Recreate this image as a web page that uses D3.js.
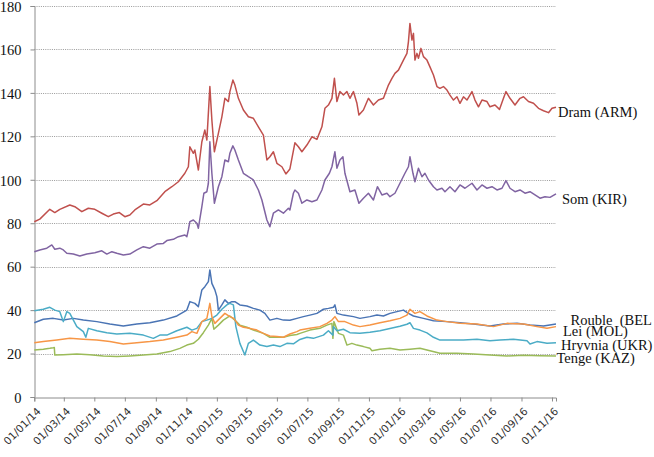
<!DOCTYPE html>
<html>
<head>
<meta charset="utf-8">
<script src="https://cdn.jsdelivr.net/npm/d3@7"></script>
<style>
  body { margin: 0; background: #fff; }
  svg { display: block; }
</style>
</head>
<body>
<svg id="chart" width="654" height="457"></svg>
<script>
// ---------------- DATA ----------------
const yTickValues = [0, 20, 40, 60, 80, 100, 120, 140, 160, 180];
const xStart = "2014-01-01";
const xEnd = "2016-11-09";

const seriesNames = ["Rouble  (BEL", "Dram (ARM)", "Tenge (KAZ)", "Som (KIR)", "Hryvnia (UKR)", "Lei (MOL)"];

const roubleBEL = [
  ["2014-01-01",34.2],["2014-01-19",35.8],["2014-02-08",36.2],["2014-02-28",35.4],["2014-03-20",36.2],
  ["2014-04-09",35.4],["2014-05-06",34.7],["2014-06-01",33.6],["2014-06-28",32.7],["2014-07-25",33.6],
  ["2014-08-20",34.2],["2014-09-16",35.4],["2014-10-13",37.3],["2014-11-02",40.0],["2014-11-08",43.9],
  ["2014-11-18",43.1],["2014-11-25",41.6],["2014-12-02",49.3],["2014-12-08",50.8],["2014-12-15",53.1],
  ["2014-12-18",58.5],["2014-12-22",52.3],["2014-12-28",49.3],["2015-01-01",46.2],["2015-01-04",40.0],
  ["2015-01-11",42.4],["2015-01-17",44.7],["2015-01-24",43.1],["2015-01-31",43.9],["2015-02-06",43.9],
  ["2015-02-16",42.4],["2015-03-02",41.9],["2015-03-15",40.8],["2015-03-28",40.0],["2015-04-07",38.5],
  ["2015-04-17",35.4],["2015-05-01",36.2],["2015-05-14",35.4],["2015-05-27",35.3],["2015-06-10",36.2],
  ["2015-06-23",37.0],["2015-07-06",37.7],["2015-07-20",38.5],["2015-08-02",40.4],["2015-08-12",40.8],
  ["2015-08-22",41.3],["2015-08-25",42.4],["2015-08-29",38.5],["2015-09-11",37.7],["2015-10-01",37.0],
  ["2015-10-14",36.2],["2015-11-03",37.0],["2015-11-17",37.7],["2015-11-30",37.3],["2015-12-13",38.5],
  ["2015-12-27",39.3],["2016-01-09",40.0],["2016-01-19",38.5],["2016-01-29",37.3],["2016-02-18",36.2],
  ["2016-03-09",35.1],["2016-04-05",34.7],["2016-05-01",34.2],["2016-05-28",33.6],["2016-06-30",32.7],
  ["2016-07-27",33.6],["2016-08-23",33.9],["2016-09-18",33.1],["2016-10-15",32.7],["2016-11-09",33.6]
];

const dramARM = [
  ["2014-01-01",80.7],["2014-01-12",81.9],["2014-02-01",86.4],["2014-02-11",84.9],["2014-02-21",86.4],
  ["2014-03-13",88.4],["2014-03-23",87.6],["2014-04-06",85.3],["2014-04-19",86.9],["2014-05-02",86.4],
  ["2014-05-16",84.6],["2014-05-29",83.0],["2014-06-08",84.2],["2014-06-20",84.9],["2014-07-01",83.0],
  ["2014-07-11",83.8],["2014-07-21",86.1],["2014-08-07",88.8],["2014-08-20",88.4],["2014-09-03",90.4],
  ["2014-09-19",94.5],["2014-10-03",96.8],["2014-10-16",99.1],["2014-10-29",103.0],["2014-11-05",106.0],
  ["2014-11-08",115.2],["2014-11-15",112.2],["2014-11-18",113.7],["2014-11-25",104.5],["2014-12-02",117.5],
  ["2014-12-08",122.9],["2014-12-12",118.3],["2014-12-18",142.9],["2014-12-22",127.5],["2014-12-27",112.9],
  ["2015-01-04",121.4],["2015-01-11",129.0],["2015-01-17",137.5],["2015-01-24",136.0],["2015-01-27",140.6],
  ["2015-02-02",145.9],["2015-02-06",143.6],["2015-02-13",137.5],["2015-02-23",132.1],["2015-03-05",129.0],
  ["2015-03-15",128.3],["2015-03-25",124.4],["2015-04-04",120.6],["2015-04-11",109.1],["2015-04-17",110.6],
  ["2015-04-24",112.9],["2015-05-01",107.6],["2015-05-11",106.0],["2015-05-19",102.7],["2015-05-27",105.0],
  ["2015-06-06",117.0],["2015-06-13",115.2],["2015-06-20",112.9],["2015-06-30",116.0],["2015-07-10",119.8],
  ["2015-07-20",118.6],["2015-07-30",124.4],["2015-08-05",132.9],["2015-08-12",134.4],["2015-08-19",137.5],
  ["2015-08-24",146.7],["2015-08-29",136.0],["2015-09-04",140.6],["2015-09-11",139.0],["2015-09-18",140.6],
  ["2015-09-24",137.5],["2015-10-01",140.6],["2015-10-08",135.2],["2015-10-12",129.8],["2015-10-21",132.1],
  ["2015-10-31",137.5],["2015-11-10",134.4],["2015-11-20",136.7],["2015-11-30",137.5],["2015-12-10",143.6],
  ["2015-12-17",146.7],["2015-12-23",149.0],["2015-12-30",150.5],["2016-01-09",155.1],["2016-01-16",158.2],
  ["2016-01-19",163.6],["2016-01-22",172.0],["2016-01-26",164.3],["2016-01-29",167.4],["2016-02-01",155.1],
  ["2016-02-05",158.2],["2016-02-08",155.9],["2016-02-13",160.5],["2016-02-18",156.7],["2016-02-25",155.1],
  ["2016-03-02",152.0],["2016-03-09",148.2],["2016-03-16",142.9],["2016-03-22",142.1],["2016-03-29",142.9],
  ["2016-04-05",141.3],["2016-04-11",139.0],["2016-04-18",136.7],["2016-04-25",138.2],["2016-05-01",135.2],
  ["2016-05-08",138.2],["2016-05-15",136.7],["2016-05-25",140.6],["2016-05-31",136.7],["2016-06-07",133.6],
  ["2016-06-14",136.7],["2016-06-24",136.0],["2016-06-30",133.6],["2016-07-10",134.4],["2016-07-19",132.4],
  ["2016-07-27",137.5],["2016-08-01",140.6],["2016-08-09",137.5],["2016-08-19",134.4],["2016-08-29",137.5],
  ["2016-09-05",138.2],["2016-09-15",136.0],["2016-09-25",135.2],["2016-10-05",132.9],["2016-10-15",131.8],
  ["2016-10-25",130.9],["2016-11-01",132.9],["2016-11-09",133.4]
];

const tengeKAZ = [
  ["2014-01-01",21.6],["2014-01-19",22.0],["2014-02-01",22.4],["2014-02-08",22.7],["2014-02-10",22.8],
  ["2014-02-11",19.3],["2014-02-28",19.5],["2014-03-27",19.8],["2014-04-22",19.5],["2014-05-19",18.9],
  ["2014-06-15",18.6],["2014-07-11",18.9],["2014-08-07",19.3],["2014-09-03",19.8],["2014-09-29",20.9],
  ["2014-10-19",22.4],["2014-11-02",23.9],["2014-11-15",24.7],["2014-11-25",26.6],["2014-12-05",29.6],
  ["2014-12-15",33.1],["2014-12-22",36.2],["2014-12-26",31.2],["2015-01-04",33.1],["2015-01-14",35.4],
  ["2015-01-27",37.3],["2015-02-06",35.4],["2015-02-16",33.1],["2015-03-02",32.1],["2015-03-15",30.8],
  ["2015-04-04",29.3],["2015-04-17",27.5],["2015-05-01",27.5],["2015-05-14",27.5],["2015-05-27",28.3],
  ["2015-06-10",28.8],["2015-06-16",29.3],["2015-07-06",30.8],["2015-07-26",31.6],["2015-08-09",33.1],
  ["2015-08-19",33.9],["2015-08-21",27.0],["2015-08-23",34.7],["2015-09-01",29.3],["2015-09-11",28.5],
  ["2015-09-18",23.9],["2015-09-28",24.7],["2015-10-08",23.9],["2015-10-21",23.2],["2015-11-03",22.4],
  ["2015-11-07",21.3],["2015-11-23",22.0],["2015-12-13",22.4],["2016-01-02",21.6],["2016-01-22",22.0],
  ["2016-02-11",22.4],["2016-03-02",21.3],["2016-03-22",20.1],["2016-04-25",20.1],["2016-05-28",19.8],
  ["2016-06-30",19.3],["2016-08-03",18.9],["2016-09-05",19.2],["2016-10-08",19.0],["2016-11-09",18.9]
];

const somKIR = [
  ["2014-01-01",66.9],["2014-01-12",67.7],["2014-01-26",68.5],["2014-02-05",70.0],["2014-02-11",68.0],
  ["2014-02-21",68.5],["2014-02-28",67.7],["2014-03-07",66.2],["2014-03-20",65.8],["2014-04-02",64.9],
  ["2014-04-16",65.8],["2014-05-02",66.4],["2014-05-16",67.3],["2014-05-26",65.8],["2014-06-05",66.9],
  ["2014-06-15",66.2],["2014-06-28",65.4],["2014-07-11",65.8],["2014-07-25",67.7],["2014-08-07",69.2],
  ["2014-08-20",68.5],["2014-09-03",70.4],["2014-09-16",70.7],["2014-09-23",72.0],["2014-10-06",72.6],
  ["2014-10-16",73.8],["2014-10-29",74.6],["2014-11-02",73.8],["2014-11-05",76.9],["2014-11-08",80.7],
  ["2014-11-15",81.5],["2014-11-22",80.0],["2014-11-25",77.7],["2014-12-02",87.6],["2014-12-06",93.8],
  ["2014-12-12",94.5],["2014-12-15",98.4],["2014-12-18",117.5],["2014-12-22",103.0],["2014-12-27",89.2],
  ["2015-01-04",96.8],["2015-01-11",101.4],["2015-01-17",109.1],["2015-01-24",108.3],["2015-01-27",112.2],
  ["2015-02-02",115.6],["2015-02-06",113.7],["2015-02-13",109.1],["2015-02-23",103.0],["2015-03-05",101.4],
  ["2015-03-15",99.9],["2015-03-25",95.3],["2015-04-01",90.7],["2015-04-11",81.5],["2015-04-17",78.4],
  ["2015-04-24",84.6],["2015-05-04",86.1],["2015-05-14",84.6],["2015-05-24",86.9],["2015-05-27",86.1],
  ["2015-06-03",93.8],["2015-06-06",95.3],["2015-06-13",93.8],["2015-06-20",89.2],["2015-06-30",90.7],
  ["2015-07-10",89.9],["2015-07-20",90.7],["2015-07-30",95.3],["2015-08-05",99.9],["2015-08-14",103.0],
  ["2015-08-19",106.0],["2015-08-25",112.9],["2015-08-29",105.3],["2015-09-04",109.1],["2015-09-10",110.6],
  ["2015-09-14",103.0],["2015-09-24",94.5],["2015-10-04",95.3],["2015-10-12",89.2],["2015-10-21",91.5],
  ["2015-10-31",93.8],["2015-11-10",90.7],["2015-11-18",96.8],["2015-11-27",93.0],["2015-12-07",93.8],
  ["2015-12-13",92.2],["2015-12-23",93.8],["2016-01-02",98.4],["2016-01-12",103.0],["2016-01-19",106.0],
  ["2016-01-22",110.6],["2016-01-28",103.0],["2016-02-01",99.1],["2016-02-08",105.3],["2016-02-15",101.4],
  ["2016-02-21",103.0],["2016-02-28",99.9],["2016-03-09",96.8],["2016-03-16",95.3],["2016-03-26",96.1],
  ["2016-04-01",94.5],["2016-04-11",96.8],["2016-04-21",94.5],["2016-05-01",97.6],["2016-05-11",96.1],
  ["2016-05-25",98.4],["2016-06-04",95.3],["2016-06-14",97.6],["2016-06-24",96.1],["2016-07-04",96.8],
  ["2016-07-14",95.3],["2016-07-24",96.1],["2016-08-01",99.6],["2016-08-09",96.1],["2016-08-19",94.5],
  ["2016-08-29",95.3],["2016-09-08",93.8],["2016-09-18",94.5],["2016-09-28",93.0],["2016-10-08",91.5],
  ["2016-10-18",92.2],["2016-10-28",91.9],["2016-11-09",93.5]
];

const hryvniaUKR = [
  ["2014-01-01",39.7],["2014-01-19",40.4],["2014-02-01",41.3],["2014-02-11",40.0],["2014-02-21",39.3],
  ["2014-02-28",34.7],["2014-03-07",39.3],["2014-03-13",38.5],["2014-03-27",32.4],["2014-04-09",30.1],
  ["2014-04-14",27.5],["2014-04-19",31.6],["2014-05-06",30.5],["2014-05-26",29.6],["2014-06-15",29.0],
  ["2014-07-11",29.3],["2014-08-07",28.5],["2014-08-27",27.0],["2014-09-09",28.5],["2014-09-23",28.5],
  ["2014-10-13",30.5],["2014-11-02",32.1],["2014-11-12",30.8],["2014-11-22",31.6],["2014-12-02",34.7],
  ["2014-12-12",35.4],["2014-12-22",36.2],["2015-01-01",37.7],["2015-01-11",40.4],["2015-01-21",42.4],
  ["2015-01-27",43.1],["2015-02-03",42.4],["2015-02-08",32.4],["2015-02-16",24.7],["2015-02-26",19.3],
  ["2015-03-05",24.7],["2015-03-15",26.2],["2015-03-28",23.9],["2015-04-11",23.2],["2015-04-24",23.9],
  ["2015-05-07",23.2],["2015-05-21",24.7],["2015-06-03",24.5],["2015-06-16",26.5],["2015-06-30",27.5],
  ["2015-07-13",27.0],["2015-08-02",28.5],["2015-08-12",30.5],["2015-08-21",28.5],["2015-08-22",32.4],
  ["2015-08-29",30.5],["2015-09-11",31.2],["2015-09-24",29.6],["2015-10-14",29.3],["2015-11-03",29.8],
  ["2015-11-23",30.5],["2015-12-13",31.5],["2016-01-02",32.6],["2016-01-16",33.5],["2016-01-22",34.2],
  ["2016-01-29",31.6],["2016-02-11",30.8],["2016-02-25",29.5],["2016-03-09",27.5],["2016-03-22",26.2],
  ["2016-04-11",26.2],["2016-05-08",26.2],["2016-06-04",26.6],["2016-06-30",25.9],["2016-07-20",26.2],
  ["2016-08-16",26.6],["2016-09-12",25.9],["2016-09-18",24.4],["2016-10-02",25.5],["2016-10-22",24.7],
  ["2016-11-09",25.0]
];

const leiMOL = [
  ["2014-01-01",25.0],["2014-01-19",25.5],["2014-02-15",26.2],["2014-03-13",27.0],["2014-04-09",26.6],
  ["2014-05-06",26.2],["2014-06-01",25.5],["2014-06-28",24.4],["2014-07-25",25.0],["2014-08-20",25.5],
  ["2014-09-16",26.2],["2014-10-13",27.5],["2014-11-02",28.5],["2014-11-12",30.1],["2014-11-22",29.3],
  ["2014-12-02",34.7],["2014-12-12",36.2],["2014-12-18",43.1],["2014-12-22",37.0],["2014-12-28",33.9],
  ["2015-01-07",36.2],["2015-01-17",38.5],["2015-01-27",37.0],["2015-02-04",36.2],["2015-02-13",33.1],
  ["2015-02-23",32.1],["2015-03-08",31.6],["2015-03-22",30.8],["2015-04-04",29.3],["2015-04-17",28.1],
  ["2015-05-01",27.8],["2015-05-14",27.5],["2015-05-27",29.0],["2015-06-10",30.1],["2015-06-16",30.8],
  ["2015-07-06",31.6],["2015-07-26",32.4],["2015-08-09",33.9],["2015-08-19",35.4],["2015-08-25",37.0],
  ["2015-09-01",34.7],["2015-09-14",34.7],["2015-10-01",33.1],["2015-10-14",32.4],["2015-11-03",33.1],
  ["2015-11-23",34.2],["2015-12-13",35.1],["2016-01-02",36.2],["2016-01-16",37.7],["2016-01-22",40.4],
  ["2016-02-01",38.5],["2016-02-11",39.3],["2016-02-25",37.3],["2016-03-16",35.4],["2016-04-05",34.7],
  ["2016-05-01",33.9],["2016-06-04",33.6],["2016-07-07",32.4],["2016-08-03",33.9],["2016-09-05",33.6],
  ["2016-10-02",32.4],["2016-10-22",31.6],["2016-11-09",32.4]
];

const seriesData = [roubleBEL, dramARM, tengeKAZ, somKIR, hryvniaUKR, leiMOL];
const seriesColors = ["#4A74B4", "#C0504D", "#9BBB59", "#8064A2", "#4BACC6", "#F79646"];

// ---------------- CHART ----------------
(function () {
  const svg = d3.select("#chart");
  const W = 654, H = 457;
  const pLeft = 34.3, pRight = 556, pTop = 6, pBottom = 397;
  const parse = d3.timeParse("%Y-%m-%d");

  const x = d3.scaleTime().domain([parse(xStart), parse(xEnd)]).range([pLeft, pRight]);
  const y = d3.scaleLinear().domain([0, 180]).range([pBottom, pTop]);

  svg.append("rect").attr("width", W).attr("height", H).attr("fill", "#fff");

  // gridlines
  svg.append("g").selectAll("line").data(yTickValues.filter(v => v > 0)).join("line")
    .attr("x1", pLeft).attr("x2", pRight)
    .attr("y1", d => Math.round(y(d)) + 0.5).attr("y2", d => Math.round(y(d)) + 0.5)
    .attr("stroke", "#9a9a9a").attr("stroke-width", 1).attr("stroke-dasharray", "1,1.2");

  // y axis
  const yAxis = d3.axisLeft(y).tickValues(yTickValues).tickSize(4).tickPadding(9);
  const gy = svg.append("g").attr("transform", `translate(${Math.round(pLeft) + 0.5},0)`).call(yAxis);
  gy.select(".domain").attr("stroke", "#8c8c8c");
  gy.selectAll(".tick line").attr("stroke", "#8c8c8c");
  gy.selectAll(".tick text")
    .attr("font-family", "'Liberation Serif', 'Times New Roman', serif")
    .attr("font-size", "14.5px").attr("fill", "#111").attr("dy", "0.36em");

  // x axis
  const monthTicks = d3.timeMonth.every(2).range(parse("2014-01-01"), d3.timeDay.offset(parse("2016-11-01"), 1));
  const xAxis = d3.axisBottom(x).tickValues(monthTicks).tickFormat(d3.timeFormat("%d/%m/%y")).tickSize(4).tickPadding(2);
  const gx = svg.append("g").attr("transform", `translate(0,${pBottom + 0.5})`).call(xAxis);
  gx.select(".domain").attr("stroke", "#8c8c8c");
  gx.selectAll(".tick line").attr("stroke", "#8c8c8c");
  gx.selectAll(".tick text")
    .attr("font-family", "'DejaVu Sans', Verdana, sans-serif")
    .attr("font-size", "10.5px").attr("fill", "#333")
    .attr("text-anchor", "end")
    .attr("transform", "translate(4,12) rotate(-45)")
    .attr("y", 0).attr("x", 0).attr("dy", "0.35em");

  // lines
  const line = d3.line().x(d => x(parse(d[0]))).y(d => y(d[1]));
  seriesData.forEach((s, i) => {
    svg.append("path").datum(s)
      .attr("fill", "none").attr("stroke", seriesColors[i])
      .attr("stroke-width", 1.5).attr("stroke-linejoin", "round")
      .attr("d", line);
  });

  // series labels at line ends
  const labelPos = [
    {name: seriesNames[0], x: 570.5, y: 325},
    {name: seriesNames[1], x: 558, y: 117},
    {name: seriesNames[2], x: 556.5, y: 362.5},
    {name: seriesNames[3], x: 562, y: 204},
    {name: seriesNames[4], x: 561, y: 350},
    {name: seriesNames[5], x: 563, y: 336}
  ];
  svg.append("g").selectAll("text").data(labelPos).join("text")
    .attr("x", d => d.x).attr("y", d => d.y)
    .attr("font-family", "'Liberation Serif', 'Times New Roman', serif")
    .attr("font-size", "14.5px").attr("fill", "#111")
    .style("white-space", "pre")
    .text(d => d.name);
})();
</script>
</body>
</html>
